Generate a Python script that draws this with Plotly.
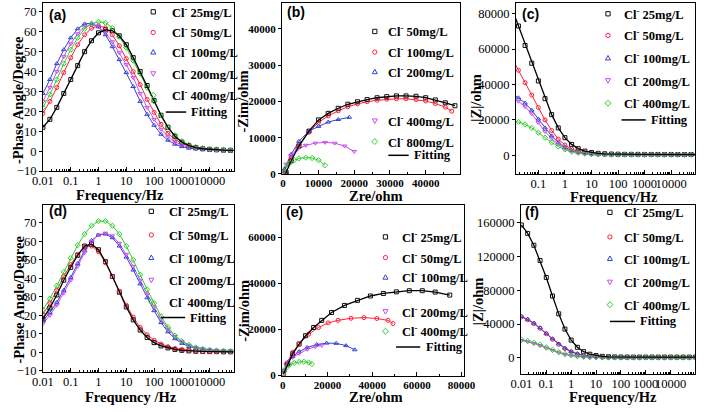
import plotly.graph_objects as go

W, H = 709, 412
SERIF = "Liberation Serif"
SANS = "Liberation Sans"

# ---------------- data ----------------
FREQ = [0.01, 0.0178, 0.0316, 0.0562, 0.1, 0.178, 0.316, 0.562, 1, 1.78, 3.16, 5.62, 10, 17.8, 31.6,
        56.2, 100, 178, 316, 562, 1000, 1780, 3160, 5620, 10000, 17800, 31600, 56200, 100000]
FREQ_TICKS = [0.01, 0.1, 1, 10, 100, 1000, 10000]
FREQ_LABELS = ["0.01", "0.1", "1", "10", "100", "1000", "10000"]

# (a) phase angle
A25 = [12, 16, 22, 29, 36, 43, 50, 55.5, 59.5, 61, 60.5, 58, 53.5, 47, 40, 33, 25.5, 18, 12, 7.5, 4.5, 2.8, 1.8, 1.2, 0.9, 0.7, 0.5, 0.4, 0.4]
A50 = [19, 25, 32, 39.5, 47, 53.5, 58.5, 61.8, 63, 62, 58.5, 53, 46.5, 40, 33.5, 26, 19.5, 13.5, 9, 6, 3.8, 2.5, 1.6, 1.2, 0.9, 0.7, 0.5, 0.4, 0.4]
A100 = [29, 36, 44, 51, 57, 61.5, 64, 64.3, 62.5, 58.5, 52.5, 46, 39.5, 32.5, 25, 18.5, 13, 8.5, 5.5, 3.5, 2.3, 1.5, 1.1, 0.8, 0.6, 0.5, 0.4, 0.4, 0.3]
A200 = [25, 32, 40, 47.5, 54, 59, 62.5, 63.5, 62.5, 59.5, 55, 49.5, 43.5, 37, 29, 22, 16, 11, 7.2, 4.7, 3.1, 2, 1.4, 1, 0.7, 0.5, 0.4, 0.4, 0.3]
A400 = [22, 28.5, 36, 44, 51, 57, 61.5, 64, 65, 64.5, 62, 57.5, 52, 45.5, 39, 32, 25, 18, 12, 8, 5, 3.2, 2.1, 1.5, 1.1, 0.9, 0.7, 0.6, 0.6]

# (b) Nyquist
B50_RE = [800, 900, 2300, 4500, 7300, 10000, 12700, 15500, 18200, 20900, 23600, 26400, 29100, 31800, 34500, 37300, 40000, 42700, 45500, 48200]
B50_IM = [0, 450, 3600, 7700, 11800, 14900, 16700, 18100, 19200, 19900, 20500, 21000, 21300, 21500, 21500, 21400, 21000, 20400, 19600, 18800]
B100_RE = [500, 2300, 4500, 7300, 10000, 12700, 15500, 18200, 20900, 23600, 26400, 29100, 31800, 34500, 37300, 40000, 42700, 45500, 47300]
B100_IM = [900, 4500, 8100, 11500, 14200, 16000, 17400, 18500, 19300, 19900, 20300, 20600, 20700, 20700, 20500, 20100, 19400, 18400, 17300]
B200_RE = [450, 2300, 4500, 7300, 10000, 12700, 15500, 18600]
B200_IM = [1350, 5400, 9000, 11800, 13100, 14300, 15000, 15600]
B400_RE = [200, 900, 2300, 4100, 6400, 9100, 11800, 14500, 17300, 20000]
B400_IM = [600, 2700, 5000, 6800, 7900, 8500, 8700, 8500, 7700, 6200]
B800_RE = [200, 900, 1800, 3200, 4500, 6400, 8200, 10000, 11800]
B800_IM = [450, 1800, 2900, 3800, 4300, 4500, 4400, 3800, 2400]

# (c) |Z|
C25 = [83000, 73000, 62000, 52000, 42000, 32000, 23000, 15500, 10000, 6200, 3800, 2400, 1600, 1150, 900, 750, 650, 600, 570, 560, 550, 540, 530, 520, 510, 500, 500, 500, 500]
C50 = [55000, 48000, 41000, 34000, 27000, 20000, 14000, 9200, 5800, 3600, 2200, 1400, 950, 700, 560, 480, 440, 420, 410, 400, 400, 390, 380, 380, 380, 380, 380, 380, 380]
C100 = [34500, 32500, 29500, 25500, 20500, 15500, 11000, 7200, 4500, 2800, 1700, 1100, 750, 560, 460, 400, 370, 350, 340, 340, 330, 330, 330, 330, 330, 330, 330, 330, 330]
C200 = [32500, 30500, 27500, 23500, 18500, 13500, 9500, 6200, 3900, 2400, 1500, 950, 650, 500, 420, 380, 350, 340, 330, 330, 320, 320, 320, 320, 320, 320, 320, 320, 320]
C400 = [19500, 18800, 17500, 15500, 12800, 10000, 7300, 5000, 3300, 2100, 1400, 950, 700, 560, 480, 440, 420, 410, 400, 400, 390, 390, 390, 390, 390, 390, 390, 390, 390]

# (d) phase angle
D25 = [18, 24, 31, 39, 46, 52.5, 57.5, 58.5, 55.5, 49, 41, 32.5, 24.5, 17.5, 12, 8, 5.2, 3.4, 2.3, 1.5, 1, 0.7, 0.5, 0.4, 0.3, 0.3, 0.2, 0.2, 0.2]
D50 = [20.5, 26.5, 33.5, 41, 47.5, 53, 57, 57.5, 54.5, 48.5, 41, 33, 25.5, 19, 13.5, 9.5, 6.5, 4.5, 3, 2, 1.4, 1, 0.7, 0.5, 0.4, 0.3, 0.3, 0.2, 0.2]
D100 = [17, 21.5, 27, 33.5, 40.5, 48, 55, 60.5, 63.5, 64, 62, 57.5, 51.5, 44.5, 37, 29.5, 22.5, 16, 11, 7.3, 4.8, 3.1, 2.1, 1.4, 1, 0.7, 0.5, 0.4, 0.4]
D200 = [15.5, 20, 25.5, 32, 39, 46.5, 54, 60, 63.5, 64.5, 63, 59, 53, 46.5, 39, 31.5, 24.5, 18, 12.5, 8.5, 5.7, 3.8, 2.6, 1.8, 1.3, 1, 0.8, 0.6, 0.6]
D400 = [23, 29, 36, 43.5, 51, 58, 64, 68.5, 71, 71, 68.5, 64, 57.5, 50, 42, 34, 26.5, 19.5, 13.5, 9, 6, 4, 2.6, 1.8, 1.3, 1, 0.8, 0.6, 0.6]

# (e) Nyquist
E25_RE = [300, 2200, 4400, 7300, 10200, 13800, 17400, 21800, 27600, 33400, 39200, 45000, 50800, 56600, 62400, 68200, 74700]
E25_IM = [700, 5000, 9400, 13700, 17300, 20900, 24000, 27400, 30500, 32700, 34600, 35700, 36400, 36900, 36900, 36300, 35000]
E50_RE = [300, 1500, 4400, 7300, 11600, 16000, 20300, 24700, 30500, 36300, 42100, 47100, 49300]
E50_IM = [700, 5000, 10100, 13700, 18000, 20900, 22900, 24000, 24900, 25200, 24800, 24000, 22600]
E100_RE = [700, 2200, 4400, 7300, 10900, 15200, 19600, 23900, 28300, 32200]
E100_IM = [2200, 5800, 8200, 10400, 12200, 13500, 14100, 14000, 13000, 11200]
E200_RE = [700, 2200, 4400, 7300, 10900, 14500, 17400]
E200_IM = [2400, 5800, 7900, 9600, 11400, 12500, 13100]
E400_RE = [400, 1500, 2900, 5100, 7300, 9400, 11600, 13000]
E400_IM = [1400, 3300, 4600, 5500, 5900, 6000, 5600, 5000]

# (f) |Z|
F25 = [157000, 147000, 133000, 115000, 95000, 73000, 52000, 34000, 21000, 12500, 7300, 4300, 2700, 1800, 1300, 1100, 1000, 950, 900, 900, 900, 900, 900, 900, 900, 900, 900, 900, 900]
F50 = [48500, 45000, 40500, 35000, 28500, 22000, 16000, 11000, 7200, 4500, 2800, 1800, 1200, 900, 700, 600, 550, 520, 500, 500, 500, 500, 500, 500, 500, 500, 500, 500, 500]
F100 = [49000, 45500, 41000, 35500, 29000, 22500, 16500, 11500, 7600, 4800, 3000, 1900, 1250, 900, 700, 600, 550, 520, 500, 500, 500, 500, 500, 500, 500, 500, 500, 500, 500]
F200 = [20500, 19000, 17000, 14500, 11500, 8600, 6000, 4000, 2600, 1600, 1000, 700, 500, 400, 350, 320, 300, 300, 300, 300, 300, 300, 300, 300, 300, 300, 300, 300, 300]
F400 = [21500, 20000, 18000, 15500, 12500, 9500, 6800, 4600, 3000, 1900, 1200, 800, 550, 420, 380, 350, 340, 330, 330, 330, 330, 330, 330, 330, 330, 330, 330, 330, 330]

NAMES_A = ["25mg/L", "50mg/L", "100mg/L", "200mg/L", "400mg/L"]
NAMES_B = ["50mg/L", "100mg/L", "200mg/L", "400mg/L", "800mg/L"]

COLORS = ["#111111", "#ff1f3d", "#3342d4", "#c94cf0", "#2ecf2e"]
SYMBOLS = ["square-open", "circle-open", "triangle-up-open", "triangle-down-open", "diamond-open"]

# ---------------- layout helpers ----------------
def fx(p):
    return p / W

def fy(p):
    return 1 - p / H

# plot boxes in pixels: left, top, right, bottom
BOX = {
    1: (33, 3, 230, 174),
    2: (280, 3, 464, 177),
    3: (522, 3, 707, 177),
    4: (33, 209, 230, 378),
    5: (280, 209, 468, 382),
    6: (527, 209, 707, 380),
}

# legend placement (pixels): marker x, text x, row centres, fitting line x0/x1, fitting text x, fitting y
LEGEND_POS = {
    1: (147, 164, [12, 33, 53, 75, 97], 160, 181, 184, 114),
    2: (376, 388, [32, 53, 73, 123, 144], 390, 411, 414, 158),
    3: (617, 632, [14, 36, 59, 82, 105], 631, 656, 659, 122),
    4: (145, 161, [215, 239, 262, 285, 307], 155, 180, 183, 323),
    5: (387, 402, [241, 262, 282, 317, 337], 398, 423, 427, 353),
    6: (619, 632, [216, 241, 263, 287, 310], 619, 645, 648, 327),
}

fig = go.Figure()
shapes = []
ann = []


def add_text(txt, x, y, angle=0, font=None, xanchor="center"):
    ann.append(dict(text=txt, x=fx(x), y=fy(y), xref="paper", yref="paper", showarrow=False,
                    textangle=angle, font=font, xanchor=xanchor, yanchor="middle"))


def pth(pts):
    return "M " + " L ".join(f"{fx(px):.5f},{fy(py):.5f}" for px, py in pts) + " Z"


def legend_symbol(k, x, y):
    c = COLORS[k]
    line = dict(color=c, width=1)
    r = 2.2
    if k == 0:
        shapes.append(dict(type="rect", xref="paper", yref="paper", x0=fx(x - r), x1=fx(x + r),
                           y0=fy(y + r), y1=fy(y - r), line=line))
    elif k == 1:
        shapes.append(dict(type="circle", xref="paper", yref="paper", x0=fx(x - r), x1=fx(x + r),
                           y0=fy(y + r), y1=fy(y - r), line=line))
    elif k == 2:
        shapes.append(dict(type="path", xref="paper", yref="paper", line=line,
                           path=pth([(x, y - 2.6), (x + 2.6, y + 2), (x - 2.6, y + 2)])))
    elif k == 3:
        shapes.append(dict(type="path", xref="paper", yref="paper", line=line,
                           path=pth([(x, y + 2.6), (x + 2.6, y - 2), (x - 2.6, y - 2)])))
    else:
        shapes.append(dict(type="path", xref="paper", yref="paper", line=line,
                           path=pth([(x, y - 3), (x + 3, y), (x, y + 3), (x - 3, y)])))


LEG_FONT = dict(family=SERIF, size=12.5, color="black", weight="bold")


def add_panel(i, xs_list, ys_list, names):
    xa, ya = ("x" if i == 1 else f"x{i}"), ("y" if i == 1 else f"y{i}")
    for k in range(1, 5):
        fig.add_trace(go.Scatter(x=xs_list[k], y=ys_list[k], mode="lines",
                                 line=dict(color=COLORS[k], width=1), showlegend=False,
                                 xaxis=xa, yaxis=ya, hoverinfo="skip"))
    for k in range(5):
        fig.add_trace(go.Scatter(x=xs_list[k], y=ys_list[k], mode="markers",
                                 marker=dict(symbol=SYMBOLS[k], size=4, color=COLORS[k],
                                             line=dict(width=1, color=COLORS[k])),
                                 name="Cl- " + names[k], showlegend=False,
                                 xaxis=xa, yaxis=ya))
    fig.add_trace(go.Scatter(x=xs_list[0], y=ys_list[0], mode="lines",
                             line=dict(color="black", width=1.3), name="Fitting",
                             showlegend=False, xaxis=xa, yaxis=ya))
    mx, tx, rows, lx0, lx1, ftx, fyy = LEGEND_POS[i]
    for k in range(5):
        legend_symbol(k, mx, rows[k])
        add_text("Cl<sup>-</sup> " + names[k], tx, rows[k], 0, LEG_FONT, "left")
    shapes.append(dict(type="line", xref="paper", yref="paper", x0=fx(lx0), x1=fx(lx1),
                       y0=fy(fyy), y1=fy(fyy), line=dict(color="black", width=1.5)))
    add_text("Fitting", ftx, fyy, 0, LEG_FONT, "left")


add_panel(1, [FREQ] * 5, [A25, A50, A100, A200, A400], NAMES_A)
add_panel(2, [B50_RE, B100_RE, B200_RE, B400_RE, B800_RE],
          [B50_IM, B100_IM, B200_IM, B400_IM, B800_IM], NAMES_B)
add_panel(3, [FREQ] * 5, [C25, C50, C100, C200, C400], NAMES_A)
add_panel(4, [FREQ] * 5, [D25, D50, D100, D200, D400], NAMES_A)
add_panel(5, [E25_RE, E50_RE, E100_RE, E200_RE, E400_RE],
          [E25_IM, E50_IM, E100_IM, E200_IM, E400_IM], NAMES_A)
add_panel(6, [FREQ] * 5, [F25, F50, F100, F200, F400], NAMES_A)

tickfont = dict(family=SERIF, size=12.5, color="black")
tickfont_b = dict(family=SERIF, size=11, color="black", weight="bold")


def axis_common():
    return dict(showline=True, mirror=True, linecolor="black", linewidth=1,
                showgrid=False, zeroline=False, tickcolor="black", tickangle=0,
                exponentformat="none", separatethousands=False)


def log_x(i, rng):
    l, t, r, b = BOX[i]
    d = axis_common()
    d.update(type="log", range=rng, tickmode="array", tickvals=FREQ_TICKS, ticktext=FREQ_LABELS,
             ticks="inside", ticklen=4, ticklabelstandoff=-2,
             minor=dict(ticks="inside", ticklen=2, tickcolor="black", dtick="D1", showgrid=False),
             tickfont=tickfont, domain=[fx(l), fx(r)],
             anchor=("y" if i == 1 else f"y{i}"))
    return d


def lin_x(i, rng, dtick):
    l, t, r, b = BOX[i]
    d = axis_common()
    d.update(range=rng, dtick=dtick, tick0=0, ticks="inside", ticklen=4, tickformat="d",
             ticklabelstandoff=-1,
             minor=dict(ticks="inside", ticklen=2, tickcolor="black", nticks=2),
             tickfont=tickfont_b, domain=[fx(l), fx(r)],
             anchor=("y" if i == 1 else f"y{i}"))
    return d


def lin_y(i, rng, dtick, font):
    l, t, r, b = BOX[i]
    d = axis_common()
    d.update(range=rng, dtick=dtick, tick0=0, ticks="outside", ticklen=3, tickformat="d",
             tickfont=font, domain=[fy(b), fy(t)],
             anchor=("x" if i == 1 else f"x{i}"))
    return d


fig.update_layout(
    width=W, height=H, autosize=False, showlegend=False,
    margin=dict(l=0, r=0, t=0, b=0),
    paper_bgcolor="white", plot_bgcolor="white",
    xaxis=log_x(1, [-2, 4.86]),
    yaxis=lin_y(1, [-10, 74.5], 10, tickfont),
    xaxis2=lin_x(2, [-270, 49600], 10000),
    yaxis2=lin_y(2, [0, 47100], 10000, tickfont_b),
    xaxis3=log_x(3, [-1.84, 4.9]),
    yaxis3=lin_y(3, [-10500, 86000], 20000, tickfont),
    xaxis4=log_x(4, [-2, 4.86]),
    yaxis4=lin_y(4, [-10.5, 79.5], 10, tickfont),
    xaxis5=lin_x(5, [-400, 81000], 20000),
    yaxis5=lin_y(5, [0, 74000], 20000, tickfont_b),
    xaxis6=log_x(6, [-2.02, 4.98]),
    yaxis6=lin_y(6, [-18500, 180000], 40000, tickfont),
)

TITLE_FONT = dict(family=SERIF, size=14.5, color="black", weight="bold")
add_text("-Phase Angle/Degree", 8, 102, -90, TITLE_FONT)
add_text("-Phase Angle/Degree", 8, 305, -90, TITLE_FONT)
add_text("-Zim/ohm", 240, 103, -90, TITLE_FONT)
add_text("-Zim/ohm", 240, 316, -90, TITLE_FONT)
add_text("|Z|/ohm", 481, 100, -90, TITLE_FONT)
add_text("|Z|/ohm", 482, 307, -90, TITLE_FONT)
add_text("Frequency/Hz", 113, 198, 0, TITLE_FONT)
add_text("Zre/ohm", 377, 199, 0, TITLE_FONT)
add_text("Frequency/Hz", 623, 200, 0, TITLE_FONT)
add_text("Frequency /Hz", 124, 404, 0, TITLE_FONT)
add_text("Zre/ohm", 377, 404, 0, TITLE_FONT)
add_text("Frequency/Hz", 622, 404, 0, TITLE_FONT)

LAB_FONT = dict(family=SANS, size=14, color="black", weight="bold")
for lab, x, y in [("(a)", 37, 15), ("(b)", 283, 12), ("(c)", 526, 14),
                  ("(d)", 37, 215), ("(e)", 282, 216), ("(f)", 529, 216)]:
    add_text(lab, x, y, 0, LAB_FONT, "left")

fig.update_layout(annotations=ann, shapes=shapes)

fig.write_html("out.html", config={"displayModeBar": False},
               post_script="document.body.style.margin='0';document.body.style.overflow='hidden';")
